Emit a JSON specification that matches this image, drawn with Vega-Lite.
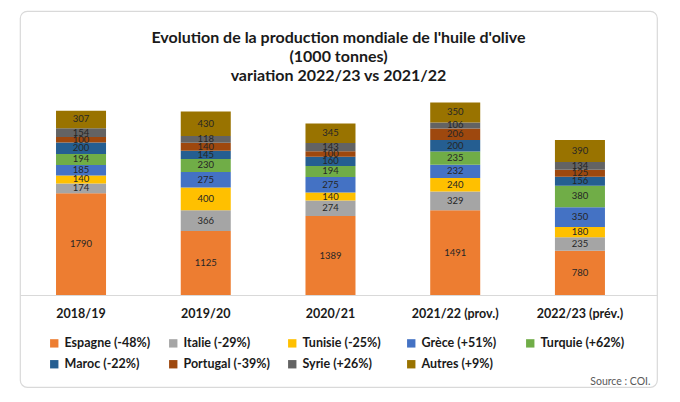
{
  "$schema": "https://vega.github.io/schema/vega-lite/v6.json",
  "autosize": {"type": "none"},
  "width": 637,
  "height": 376,
  "padding": {"left": 20, "top": 11, "right": 23, "bottom": 15},
  "background": "white",
  "config": {
    "view": {"stroke": "#d9d9d9", "strokeWidth": 1.2, "cornerRadius": 7},
    "font": "Lato"
  },
  "title": {
    "text": ["Evolution de la production mondiale de l'huile d'olive", "(1000 tonnes)", "variation 2022/23 vs 2021/22"],
    "font": "Lato",
    "fontSize": 16,
    "fontWeight": "bold",
    "color": "#1a1a1a",
    "lineHeight": 19,
    "anchor": "middle",
    "frame": "group",
    "baseline": "top",
    "offset": -73
  },
  "data": {
    "values": [
      {"year": "2018/19", "pays": "Espagne (-48%)", "o": 1, "value": 1790},
      {"year": "2018/19", "pays": "Italie (-29%)", "o": 2, "value": 174},
      {"year": "2018/19", "pays": "Tunisie (-25%)", "o": 3, "value": 140},
      {"year": "2018/19", "pays": "Grèce (+51%)", "o": 4, "value": 185},
      {"year": "2018/19", "pays": "Turquie (+62%)", "o": 5, "value": 194},
      {"year": "2018/19", "pays": "Maroc (-22%)", "o": 6, "value": 200},
      {"year": "2018/19", "pays": "Portugal (-39%)", "o": 7, "value": 100},
      {"year": "2018/19", "pays": "Syrie (+26%)", "o": 8, "value": 154},
      {"year": "2018/19", "pays": "Autres (+9%)", "o": 9, "value": 307},
      {"year": "2019/20", "pays": "Espagne (-48%)", "o": 1, "value": 1125},
      {"year": "2019/20", "pays": "Italie (-29%)", "o": 2, "value": 366},
      {"year": "2019/20", "pays": "Tunisie (-25%)", "o": 3, "value": 400},
      {"year": "2019/20", "pays": "Grèce (+51%)", "o": 4, "value": 275},
      {"year": "2019/20", "pays": "Turquie (+62%)", "o": 5, "value": 230},
      {"year": "2019/20", "pays": "Maroc (-22%)", "o": 6, "value": 145},
      {"year": "2019/20", "pays": "Portugal (-39%)", "o": 7, "value": 140},
      {"year": "2019/20", "pays": "Syrie (+26%)", "o": 8, "value": 118},
      {"year": "2019/20", "pays": "Autres (+9%)", "o": 9, "value": 430},
      {"year": "2020/21", "pays": "Espagne (-48%)", "o": 1, "value": 1389},
      {"year": "2020/21", "pays": "Italie (-29%)", "o": 2, "value": 274},
      {"year": "2020/21", "pays": "Tunisie (-25%)", "o": 3, "value": 140},
      {"year": "2020/21", "pays": "Grèce (+51%)", "o": 4, "value": 275},
      {"year": "2020/21", "pays": "Turquie (+62%)", "o": 5, "value": 194},
      {"year": "2020/21", "pays": "Maroc (-22%)", "o": 6, "value": 160},
      {"year": "2020/21", "pays": "Portugal (-39%)", "o": 7, "value": 100},
      {"year": "2020/21", "pays": "Syrie (+26%)", "o": 8, "value": 143},
      {"year": "2020/21", "pays": "Autres (+9%)", "o": 9, "value": 345},
      {"year": "2021/22 (prov.)", "pays": "Espagne (-48%)", "o": 1, "value": 1491},
      {"year": "2021/22 (prov.)", "pays": "Italie (-29%)", "o": 2, "value": 329},
      {"year": "2021/22 (prov.)", "pays": "Tunisie (-25%)", "o": 3, "value": 240},
      {"year": "2021/22 (prov.)", "pays": "Grèce (+51%)", "o": 4, "value": 232},
      {"year": "2021/22 (prov.)", "pays": "Turquie (+62%)", "o": 5, "value": 235},
      {"year": "2021/22 (prov.)", "pays": "Maroc (-22%)", "o": 6, "value": 200},
      {"year": "2021/22 (prov.)", "pays": "Portugal (-39%)", "o": 7, "value": 206},
      {"year": "2021/22 (prov.)", "pays": "Syrie (+26%)", "o": 8, "value": 106},
      {"year": "2021/22 (prov.)", "pays": "Autres (+9%)", "o": 9, "value": 350},
      {"year": "2022/23 (prév.)", "pays": "Espagne (-48%)", "o": 1, "value": 780},
      {"year": "2022/23 (prév.)", "pays": "Italie (-29%)", "o": 2, "value": 235},
      {"year": "2022/23 (prév.)", "pays": "Tunisie (-25%)", "o": 3, "value": 180},
      {"year": "2022/23 (prév.)", "pays": "Grèce (+51%)", "o": 4, "value": 350},
      {"year": "2022/23 (prév.)", "pays": "Turquie (+62%)", "o": 5, "value": 380},
      {"year": "2022/23 (prév.)", "pays": "Maroc (-22%)", "o": 6, "value": 156},
      {"year": "2022/23 (prév.)", "pays": "Portugal (-39%)", "o": 7, "value": 125},
      {"year": "2022/23 (prév.)", "pays": "Syrie (+26%)", "o": 8, "value": 134},
      {"year": "2022/23 (prév.)", "pays": "Autres (+9%)", "o": 9, "value": 390}
    ]
  },
  "transform": [
    {"stack": "value", "groupby": ["year"], "sort": [{"field": "o", "order": "ascending"}], "as": ["v0", "v1"]},
    {"calculate": "(datum.v0 + datum.v1) / 2", "as": "mid"}
  ],
  "encoding": {
    "x": {
      "field": "year",
      "type": "nominal",
      "sort": null,
      "scale": {"paddingInner": 0.599, "paddingOuter": 0.353, "align": 0.409},
      "axis": {
        "offset": -92,
        "labelAngle": 0,
        "labelFont": "Lato",
        "labelFontSize": 12.5,
        "labelFontWeight": "bold",
        "labelColor": "#1a1a1a",
        "labelPadding": 12,
        "ticks": false,
        "domainColor": "#d9d9d9",
        "domainWidth": 1,
        "title": "Source : COI.",
        "titleFont": "Lato",
        "titleFontSize": 10.5,
        "titleFontWeight": "normal",
        "titleColor": "#595959",
        "titleX": 630,
        "titleY": 86,
        "titleAlign": "right",
        "titleAnchor": null,
        "titleBaseline": "middle"
      }
    }
  },
  "layer": [
    {
      "mark": {"type": "bar"},
      "encoding": {
        "y": {"field": "v1", "type": "quantitative", "scale": {"domain": [-1620, 5000], "zero": false, "nice": false}, "axis": null},
        "y2": {"field": "v0"},
        "color": {
          "field": "pays",
          "type": "nominal",
          "scale": {
            "domain": ["Espagne (-48%)", "Italie (-29%)", "Tunisie (-25%)", "Grèce (+51%)", "Turquie (+62%)", "Maroc (-22%)", "Portugal (-39%)", "Syrie (+26%)", "Autres (+9%)"],
            "range": ["#ED7D31", "#A5A5A5", "#FFC000", "#4472C4", "#70AD47", "#255E91", "#9E480E", "#636363", "#997300"]
          },
          "legend": {
            "title": null,
            "orient": "none",
            "legendX": 28,
            "legendY": 326,
            "direction": "horizontal",
            "columns": 5,
            "gridAlign": "all",
            "columnPadding": 16,
            "rowPadding": 8,
            "padding": 0,
            "symbolType": "square",
            "symbolSize": 70,
            "symbolStrokeWidth": 0,
            "symbolOpacity": 1,
            "labelFont": "Lato",
            "labelFontSize": 12.5,
            "labelFontWeight": "bold",
            "labelColor": "#1a1a1a",
            "labelOffset": 4,
            "labelLimit": 200
          }
        }
      }
    },
    {
      "mark": {"type": "text", "font": "Lato", "fontSize": 9.5, "color": "#262626", "baseline": "middle"},
      "encoding": {
        "y": {"field": "mid", "type": "quantitative", "scale": {"domain": [-1620, 5000], "zero": false, "nice": false}, "axis": null},
        "text": {"field": "value", "type": "quantitative"}
      }
    }
  ]
}
